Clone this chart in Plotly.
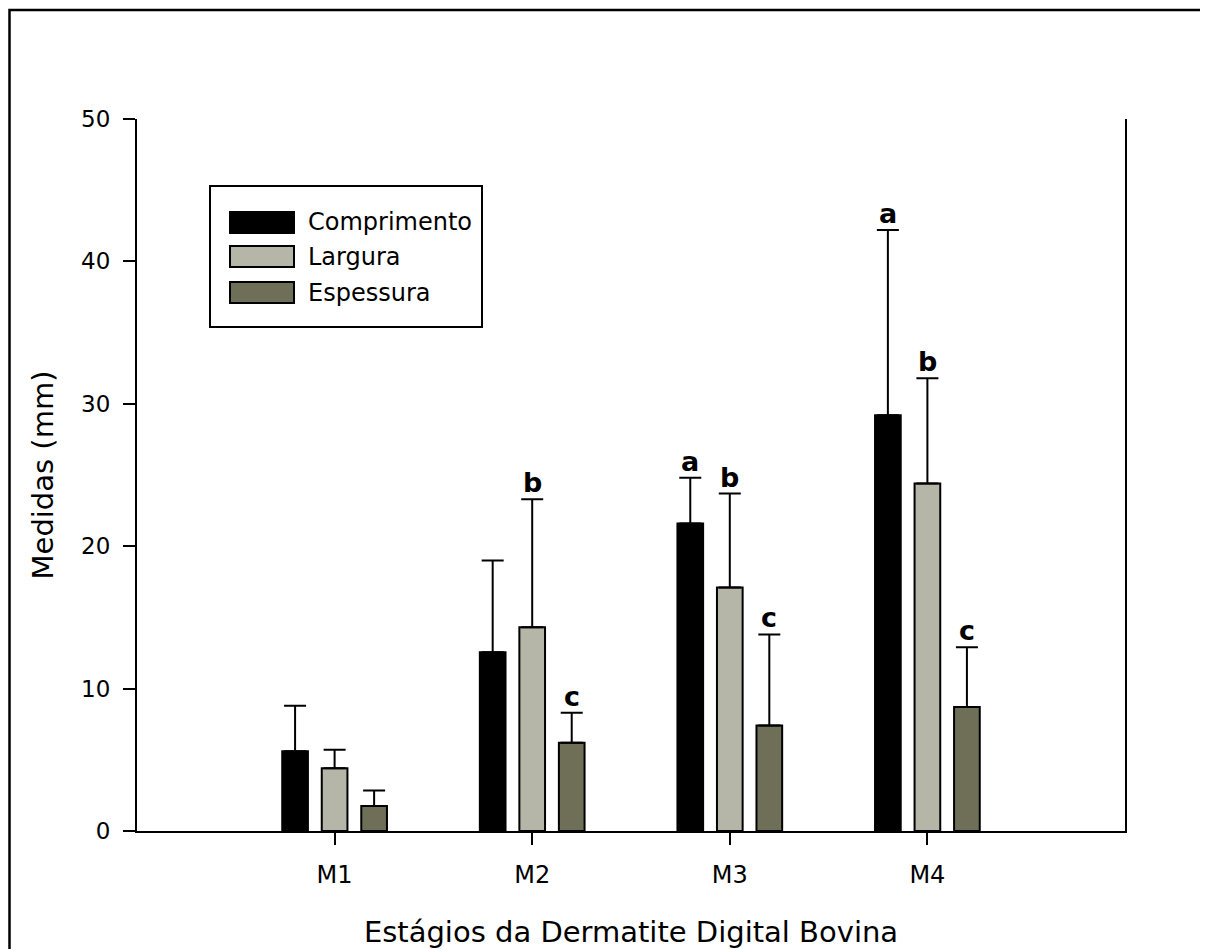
import plotly.graph_objects as go

# ---- data ----
stages = ["M1", "M2", "M3", "M4"]
series_names = ["Comprimento", "Largura", "Espessura"]
comprimento = [5.6, 12.55, 21.6, 29.2]
comprimento_err = [3.2, 6.45, 3.2, 13.0]
largura = [4.4, 14.3, 17.1, 24.4]
largura_err = [1.3, 9.0, 6.6, 7.4]
espessura = [1.75, 6.2, 7.4, 8.7]
espessura_err = [1.1, 2.1, 6.4, 4.2]
comprimento_letters = ["", "", "a", "a"]
largura_letters = ["", "b", "b", "b"]
espessura_letters = ["", "c", "c", "c"]
y_ticks = [0, 10, 20, 30, 40, 50]

colors = ["#000000", "#b5b5a8", "#6f6f58"]
values = [comprimento, largura, espessura]
errors = [comprimento_err, largura_err, espessura_err]
letters = [comprimento_letters, largura_letters, espessura_letters]

FONT = "'DejaVu Sans', Arial, sans-serif"
OFF = 8  # page body margin
W, H = 1208 - OFF, 949 - OFF
# plot area in reference pixel coordinates
RL, RR, RT, RB = 137, 1125, 119, 831
L, R, T, B = RL - OFF, RR - OFF, RT - OFF, RB - OFF

xs = list(range(len(stages)))
fig = go.Figure()
for name, vals, errs, col in zip(series_names, values, errors, colors):
    fig.add_trace(go.Bar(
        x=xs, y=vals, name=name, showlegend=False,
        marker=dict(color=col, line=dict(color="black", width=2)),
        error_y=dict(type="data", array=errs, symmetric=False, arrayminus=[0] * len(errs),
                     color="black", thickness=2, width=11),
    ))

# significance letters above error caps
offsets = [-0.2, 0.0, 0.2]
for off, vals, errs, labs in zip(offsets, values, errors, letters):
    for i, (v, e, t) in enumerate(zip(vals, errs, labs)):
        if t:
            fig.add_annotation(x=i + off, y=v + e, text="<b>%s</b>" % t, showarrow=False,
                               yanchor="bottom", yshift=-1,
                               font=dict(family=FONT, size=27, color="black"))

def px(x):
    return (x - RL) / (RR - RL)

def py(y):
    return (RB - y) / (RB - RT)

shapes = []
# outer frame
shapes.append(dict(type="rect", xref="paper", yref="paper", x0=px(9.5), x1=px(1240),
                   y0=py(985), y1=py(10), line=dict(color="black", width=2.5)))
# custom legend
shapes.append(dict(type="rect", xref="paper", yref="paper", x0=px(210), x1=px(482),
                   y0=py(327), y1=py(186), line=dict(color="black", width=2),
                   fillcolor="white"))
rows = [(212, 233), (246, 267), (282, 303)]
for (y0, y1), col, name in zip(rows, colors, series_names):
    shapes.append(dict(type="rect", xref="paper", yref="paper", x0=px(230), x1=px(294),
                       y0=py(y1), y1=py(y0), line=dict(color="black", width=2),
                       fillcolor=col))
    fig.add_annotation(xref="paper", yref="paper", x=px(306), y=py((y0 + y1) / 2),
                       text=name, showarrow=False, xanchor="left", yanchor="middle",
                       font=dict(family=FONT, size=24, color="black"))

fig.update_layout(
    width=W, height=H,
    margin=dict(l=L, r=W - R, t=T, b=H - B, autoexpand=False),
    paper_bgcolor="white", plot_bgcolor="white",
    barmode="group", bargap=0.4, bargroupgap=0.35,
    shapes=shapes,
    font=dict(family=FONT, color="black"),
)
fig.update_xaxes(
    range=[-1, 4], tickvals=xs, ticktext=stages,
    showline=True, linecolor="black", linewidth=2, mirror=False,
    ticks="outside", ticklen=12, tickwidth=2, tickcolor="black",
    ticklabelstandoff=9, showgrid=False, zeroline=False,
    tickfont=dict(family=FONT, size=24, color="black"),
    title=dict(text="Estágios da Dermatite Digital Bovina", standoff=44,
               font=dict(family=FONT, size=29, color="black")),
)
fig.update_yaxes(
    range=[0, 50], tickvals=y_ticks,
    showline=True, linecolor="black", linewidth=2, mirror=True,
    ticks="outside", ticklen=12, tickwidth=2, tickcolor="black",
    ticklabelstandoff=8, showgrid=False, zeroline=False,
    tickfont=dict(family=FONT, size=23, color="black"),
    title=dict(text="Medidas (mm)", standoff=19,
               font=dict(family=FONT, size=29, color="black")),
)

fig.write_html("out.html")
